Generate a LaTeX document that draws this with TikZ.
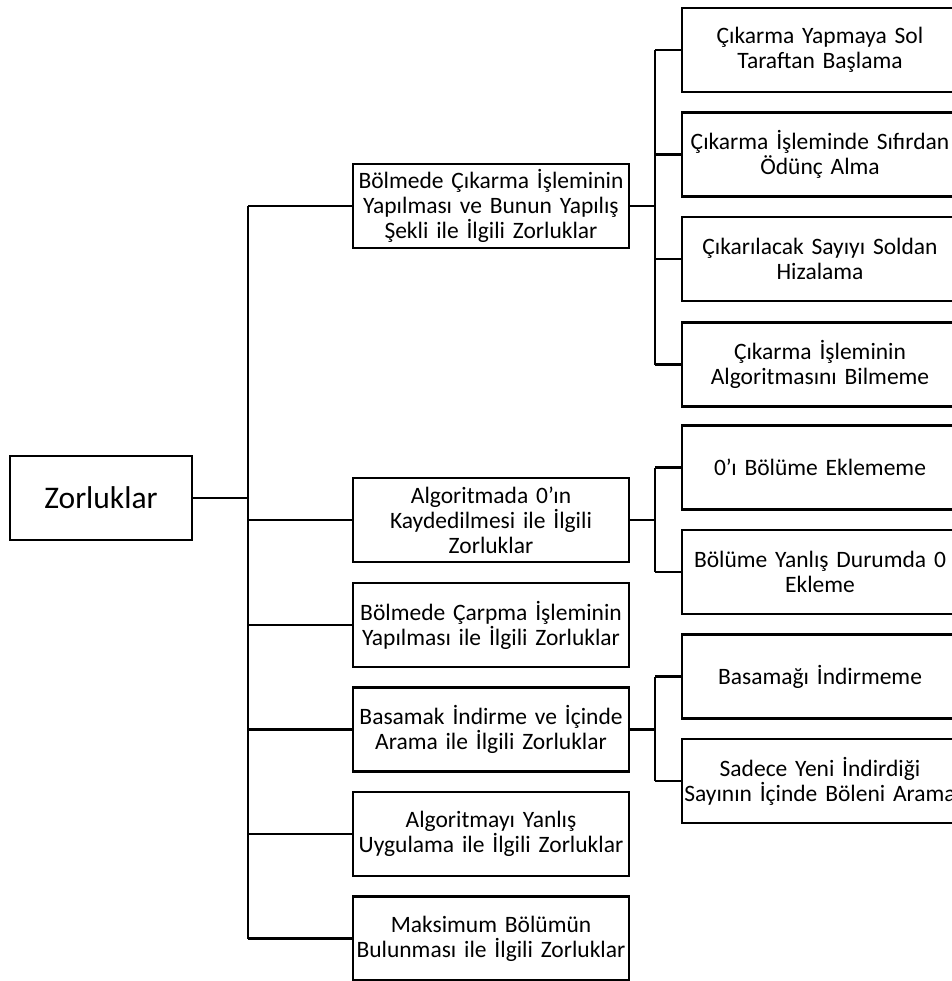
\documentclass[tikz,border=0pt]{standalone}
\usepackage{fontspec}
\setmainfont{Carlito}
\begin{document}
\begin{tikzpicture}[x=1pt,y=-1pt,box/.style={draw=black,line width=2.6pt,fill=white,align=center,text width=272pt,inner sep=2pt,minimum height=84pt,font=\fontsize{23.5}{25}\selectfont},rootbox/.style={box,text width=178pt,font=\fontsize{31.5}{36}\selectfont},link/.style={draw=black,line width=2.6pt}]
\def\xm{491};
\def\xr{820};
\useasboundingbox (0,0) rectangle (951,981);

\coordinate (tk) at (248,0);
\coordinate (br) at (655,0);

\node[rootbox] (root) at (101,498) {Zorluklar};

\node[box] (b1) at (\xm,206) {Bölmede Çıkarma İşleminin\\Yapılması ve Bunun Yapılış\\Şekli ile İlgili Zorluklar};
\node[box] (b2) at (\xm,520) {Algoritmada 0’ın\\Kaydedilmesi ile İlgili\\Zorluklar};
\node[box] (b3) at (\xm,625) {Bölmede Çarpma İşleminin\\Yapılması ile İlgili Zorluklar};
\node[box] (b4) at (\xm,729.5) {Basamak İndirme ve İçinde\\Arama ile İlgili Zorluklar};
\node[box] (b5) at (\xm,834) {Algoritmayı Yanlış\\Uygulama ile İlgili Zorluklar};
\node[box] (b6) at (\xm,938.5) {Maksimum Bölümün\\Bulunması ile İlgili Zorluklar};

\node[box] (c1) at (\xr,50) {Çıkarma Yapmaya Sol\\Taraftan Başlama};
\node[box] (c2) at (\xr,154.5) {Çıkarma İşleminde Sıfırdan\\Ödünç Alma};
\node[box] (c3) at (\xr,259) {Çıkarılacak Sayıyı Soldan\\Hizalama};
\node[box] (c4) at (\xr,364.5) {Çıkarma İşleminin\\Algoritmasını Bilmeme};
\node[box] (c5) at (\xr,467.5) {0’ı Bölüme Eklememe};
\node[box] (c6) at (\xr,572) {Bölüme Yanlış Durumda 0\\Ekleme};
\node[box] (c7) at (\xr,676.5) {Basamağı İndirmeme};
\node[box] (c8) at (\xr,781) {Sadece Yeni İndirdiği\\Sayının İçinde Böleni Arama};

% trunk from the root
\path[link] (root.east) -- (root.east -| tk);
\path[link] (b1.west -| tk) -- (b6.west -| tk);
\foreach \b in {b1,b2,b3,b4,b5,b6}
  \path[link] (\b.west) -- (\b.west -| tk);

% branches to the right column
\path[link] (b1.east) -- (b1.east -| br);
\path[link] (c1.west -| br) -- (c4.west -| br);
\path[link] (b2.east) -- (b2.east -| br);
\path[link] (c5.west -| br) -- (c6.west -| br);
\path[link] (b4.east) -- (b4.east -| br);
\path[link] (c7.west -| br) -- (c8.west -| br);
\foreach \c in {c1,c2,c3,c4,c5,c6,c7,c8}
  \path[link] (\c.west) -- (\c.west -| br);
\end{tikzpicture}
\end{document}
